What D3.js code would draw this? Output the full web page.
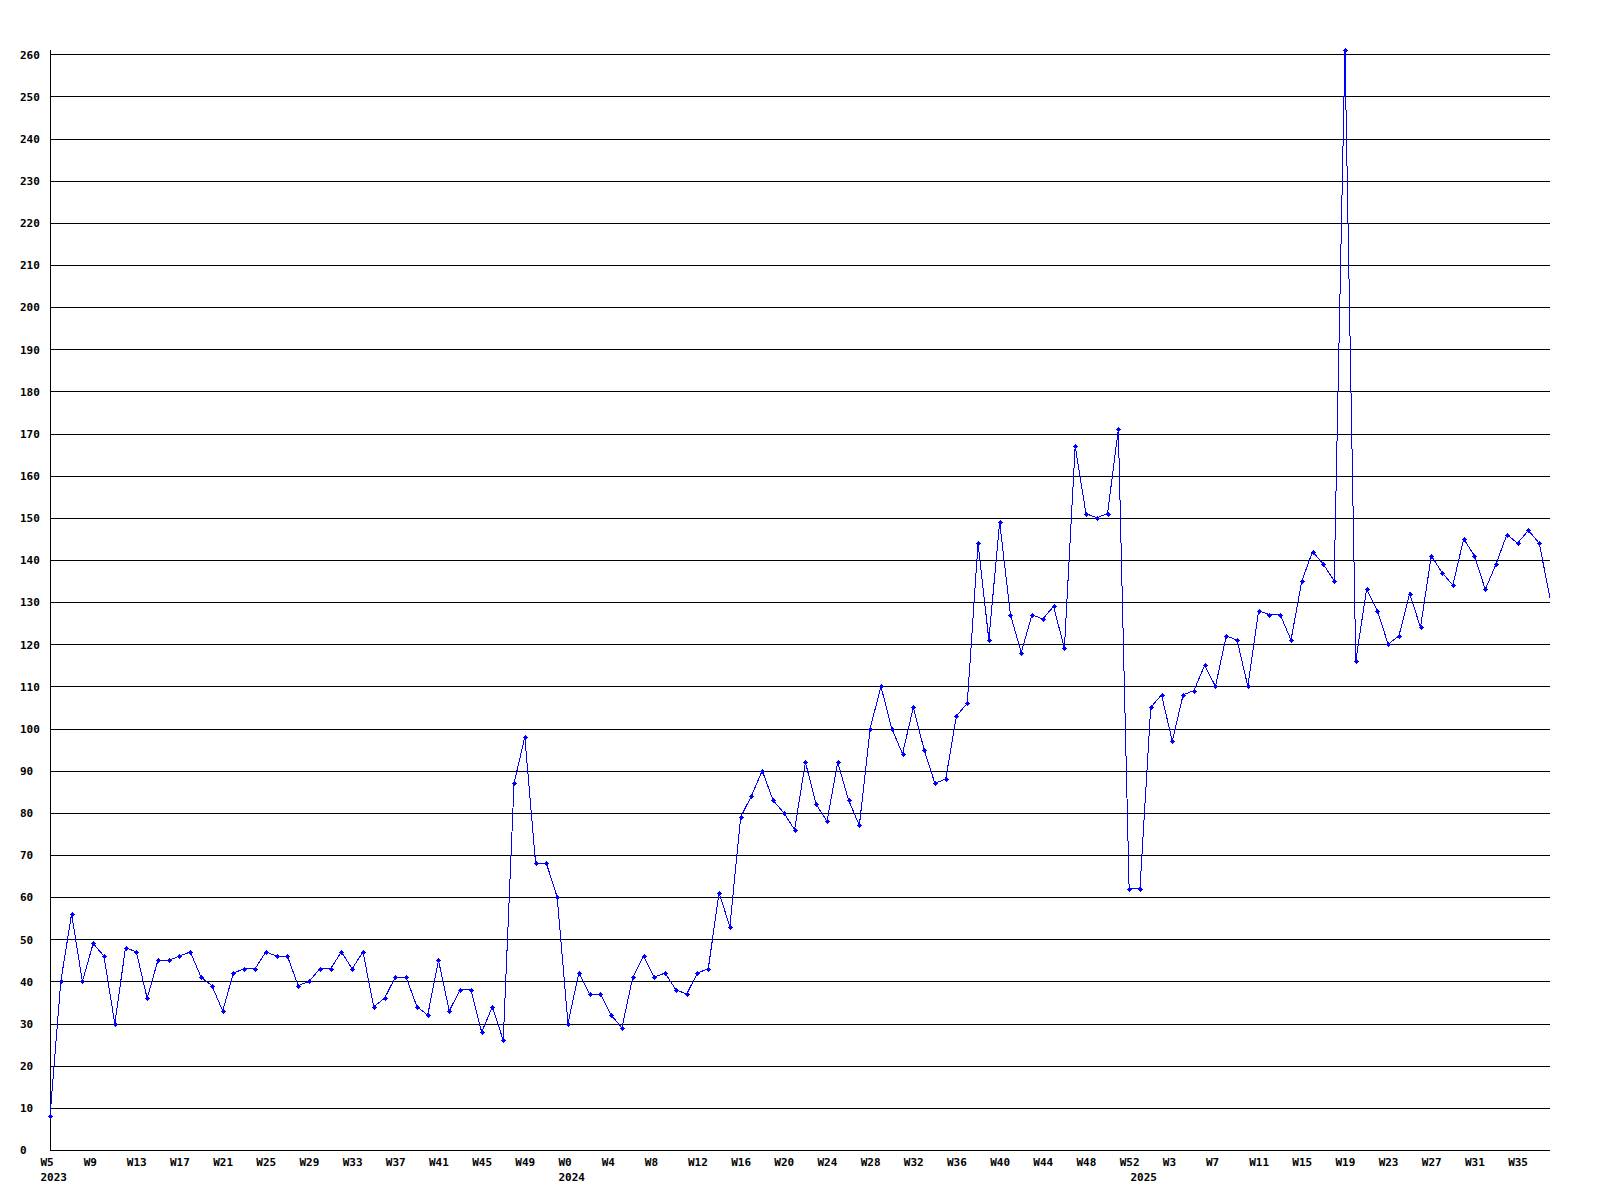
<!DOCTYPE html>
<html>
<head>
<meta charset="utf-8">
<script src="https://cdn.jsdelivr.net/npm/d3@7"></script>
<style>
  html, body { margin: 0; padding: 0; background: #fff; }
  svg { display: block; }
</style>
</head>
<body>
<div id="chart"></div>
<script>
"use strict";

// weekly counts, one array per year (week numbers start at firstWeek)
var years = [2023, 2024, 2025];
var firstWeek = [5, 0, 0];

var counts2023 = [8, 40, 56, 40, 49, 46, 30, 48, 47, 36, 45, 45, 46, 47, 41, 39,
	33, 42, 43, 43, 47, 46, 46, 39, 40, 43, 43, 47, 43, 47, 34, 36,
	41, 41, 34, 32, 45, 33, 38, 38, 28, 34, 26, 87, 98, 68, 68, 60];
var counts2024 = [30, 42, 37, 37, 32, 29, 41, 46, 41, 42, 38, 37, 42, 43, 61, 53,
	79, 84, 90, 83, 80, 76, 92, 82, 78, 92, 83, 77, 100, 110, 100, 94,
	105, 95, 87, 88, 103, 106, 144, 121, 149, 127, 118, 127, 126, 129, 119, 167,
	151, 150, 151, 171, 62];
var counts2025 = [62, 105, 108, 97, 108, 109, 115, 110, 122, 121, 110, 128, 127, 127, 121, 135,
	142, 139, 135, 261, 116, 133, 128, 120, 122, 132, 124, 141, 137, 134, 145, 141,
	133, 139, 146, 144, 147, 144, 131];

var yTicks = [0, 10, 20, 30, 40, 50, 60, 70, 80, 90, 100, 110, 120, 130,
	140, 150, 160, 170, 180, 190, 200, 210, 220, 230, 240, 250, 260];
var yMax = 261;
var labelEvery = 4; // a week label on every 4th point

// flatten into rows
var rows = [];
[counts2023, counts2024, counts2025].forEach(function (arr, yi) {
	arr.forEach(function (v, j) {
		var wk = firstWeek[yi] + j;
		rows.push({ key: years[yi] + "-W" + wk, year: years[yi], week: wk, value: v, first: j === 0 });
	});
});

// == layout ==
var W = 1600, H = 1200;
var plotLeft = 50, plotRight = 1550, plotTop = 50, plotBottom = 1150;

var svg = d3.select("#chart").append("svg")
	.attr("width", W)
	.attr("height", H);

svg.append("rect").attr("width", W).attr("height", H).attr("fill", "#fff");

var x = d3.scalePoint()
	.domain(rows.map(function (d) { return d.key; }))
	.range([plotLeft, plotRight]);

var y = d3.scaleLinear()
	.domain([0, yMax])
	.range([plotBottom, plotTop]);

var font = "'DejaVu Sans Mono', monospace";

function styleText(sel) {
	sel.style("font-family", font)
		.style("font-weight", "bold")
		.style("font-size", "11px")
		.attr("fill", "#000");
}

// gridlines + y labels
var gy = svg.append("g")
	.attr("transform", "translate(" + plotLeft + ",0)")
	.call(d3.axisLeft(y).tickValues(yTicks).tickSize(-(plotRight - plotLeft)).tickFormat(d3.format("d")));
gy.select(".domain").remove();
gy.selectAll(".tick line")
	.attr("stroke", "#000")
	.attr("shape-rendering", "crispEdges");
gy.selectAll(".tick text")
	.attr("x", 20 - plotLeft)
	.attr("dy", "0.35em")
	.attr("text-anchor", "start")
	.call(styleText);

// axis lines
svg.append("line")
	.attr("x1", plotLeft).attr("x2", plotLeft)
	.attr("y1", plotTop).attr("y2", plotBottom)
	.attr("stroke", "#000")
	.attr("shape-rendering", "crispEdges");
svg.append("line")
	.attr("x1", plotLeft).attr("x2", plotRight)
	.attr("y1", plotBottom).attr("y2", plotBottom)
	.attr("stroke", "#000")
	.attr("shape-rendering", "crispEdges");

// week labels
var byKey = {};
rows.forEach(function (d) { byKey[d.key] = d; });
var weekTicks = rows.filter(function (d, i) { return i % labelEvery === 0; }).map(function (d) { return d.key; });

var gx = svg.append("g")
	.attr("transform", "translate(0," + plotBottom + ")")
	.call(d3.axisBottom(x).tickValues(weekTicks).tickSize(0)
		.tickFormat(function (k) { return "W" + byKey[k].week; }));
gx.select(".domain").remove();
gx.selectAll(".tick text")
	.attr("x", -10)
	.attr("y", 12)
	.attr("dy", "0.35em")
	.attr("text-anchor", "start")
	.call(styleText);

// year labels at the first week of each year
var yearTicks = rows.filter(function (d) { return d.first; }).map(function (d) { return d.key; });
var gyr = svg.append("g")
	.attr("transform", "translate(0," + plotBottom + ")")
	.call(d3.axisBottom(x).tickValues(yearTicks).tickSize(0)
		.tickFormat(function (k) { return byKey[k].year; }));
gyr.select(".domain").remove();
gyr.selectAll(".tick text")
	.attr("x", -10)
	.attr("y", 27)
	.attr("dy", "0.35em")
	.attr("text-anchor", "start")
	.call(styleText);

// the series
var line = d3.line()
	.x(function (d) { return x(d.key); })
	.y(function (d) { return y(d.value); });

svg.append("path")
	.datum(rows)
	.attr("d", line)
	.attr("fill", "none")
	.attr("stroke", "#0000ff")
	.attr("stroke-width", 1)
	.attr("shape-rendering", "crispEdges");

// little diamond markers (last point sits on the edge, no marker there)
var marker = "M-0.5,-2.5H0.5V-1.5H1.5V-0.5H2.5V0.5H1.5V1.5H0.5V2.5H-0.5V1.5H-1.5V0.5H-2.5V-0.5H-1.5V-1.5H-0.5Z";
svg.append("g").selectAll("path")
	.data(rows.slice(0, rows.length - 1))
	.enter().append("path")
	.attr("d", marker)
	.attr("transform", function (d) {
		return "translate(" + Math.round(x(d.key)) + "," + Math.round(y(d.value)) + ")";
	})
	.attr("fill", "#0000ff")
	.attr("shape-rendering", "crispEdges");
</script>
</body>
</html>
